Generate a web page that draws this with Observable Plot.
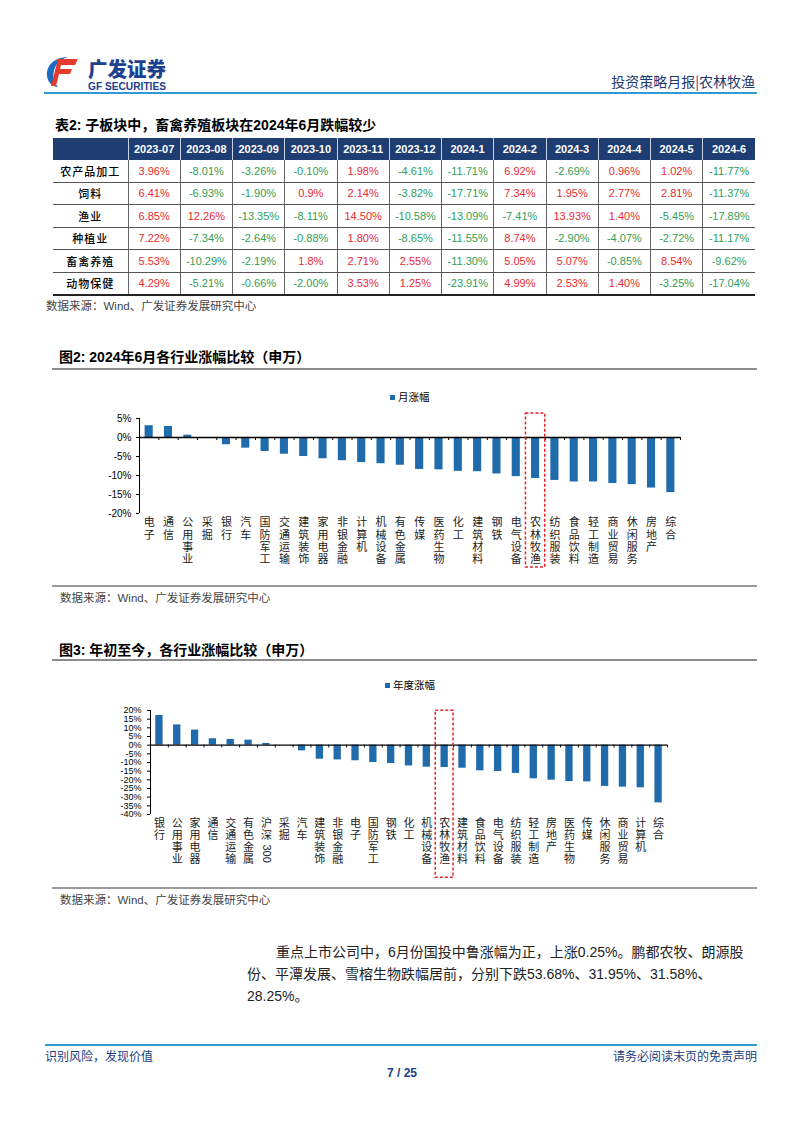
<!DOCTYPE html>
<html><head><meta charset="utf-8">
<script src="https://cdn.jsdelivr.net/npm/d3@7"></script>
<script src="https://cdn.jsdelivr.net/npm/@observablehq/plot@0.6"></script>
<style>
html,body{margin:0;padding:0;background:#fff;}
body{width:802px;height:1133px;position:relative;overflow:hidden;font-family:"Liberation Sans","Noto Sans CJK SC",sans-serif;color:#000;}
.abs{position:absolute;white-space:nowrap;}
.ttl{font-weight:bold;font-size:14px;line-height:18px;}
.src{font-size:11.5px;line-height:14px;color:#444;}
.hline{position:absolute;}
table{border-collapse:collapse;table-layout:fixed;}
th{background:#1e3d72;color:#fff;font-weight:bold;font-size:11px;height:22px;padding:0;border-left:1px solid #c9d2e0;text-align:center;}
th:first-child{border-left:none;}
td{font-size:11px;height:21.5px;padding:0;text-align:center;border-bottom:1px solid #555;border-left:1px solid #666;}
td:first-child{border-left:none;font-family:"Noto Sans CJK SC",sans-serif;font-weight:500;font-size:11px;letter-spacing:1px;}
tr:last-child td{border-bottom:2px solid #222;}
.leg{font-family:"Noto Sans CJK SC",sans-serif;font-size:10.5px;line-height:14px;}
.leg i{display:inline-block;width:5px;height:5px;background:#1f6bab;margin-right:3px;vertical-align:1px;}
</style></head><body>

<!-- header -->
<svg class="abs" style="left:44px;top:54px" width="130" height="40" viewBox="0 0 130 40">
  <path d="M24,3 C10,3 2,12 3,22 C4,29 9,33 14,33 C8,28 8,17 13,10 C16,6 20,4 24,3 Z" fill="#1b6cc0"/>
  <path d="M14,5 L34,5 L31,11 L17,11 L16,15 L28,15 L26,20 L15,20 L12,32 L7,32 Z" fill="#e63b2c"/>
  <text x="44" y="23" font-family="Noto Sans CJK SC" font-weight="900" font-size="20" fill="#1d3f8f" textLength="78" lengthAdjust="spacingAndGlyphs">广发证券</text>
  <text x="44" y="36" font-family="Liberation Sans" font-weight="bold" font-size="11" fill="#1d3f8f" textLength="78" lengthAdjust="spacingAndGlyphs">GF SECURITIES</text>
</svg>
<div class="abs" style="right:47px;top:72px;font-size:14px;line-height:18px;color:#1c3a6e;font-family:'Noto Sans CJK SC',sans-serif;">投资策略月报|农林牧渔</div>
<div class="hline" style="left:44px;top:92px;width:713px;height:2px;background:#2e9bd6"></div>

<!-- table -->
<div class="abs ttl" style="left:55px;top:116px;">表2:&nbsp;子板块中，畜禽养殖板块在2024年6月跌幅较少</div>
<div class="abs" id="tbl" style="left:53px;top:138px;"></div>
<div class="abs src" style="left:46px;top:299px;">数据来源：Wind、广发证券发展研究中心</div>

<!-- chart 2 -->
<div class="abs ttl" style="left:59px;top:348px;">图2:&nbsp;2024年6月各行业涨幅比较（申万）</div>
<div class="hline" style="left:52px;top:368px;width:705px;height:2px;background:#8c8c8c"></div>
<div class="abs leg" style="left:390px;top:390px;"><i></i>月涨幅</div>
<div class="abs" id="c2" style="left:0;top:380px;width:700px;"></div>
<div class="hline" style="left:52px;top:585px;width:705px;height:1.5px;background:#9a9a9a"></div>
<div class="abs src" style="left:60px;top:591px;">数据来源：Wind、广发证券发展研究中心</div>

<!-- chart 3 -->
<div class="abs ttl" style="left:59px;top:641px;">图3:&nbsp;年初至今，各行业涨幅比较（申万）</div>
<div class="hline" style="left:52px;top:659px;width:705px;height:2px;background:#8c8c8c"></div>
<div class="abs leg" style="left:385px;top:678px;"><i></i>年度涨幅</div>
<div class="abs" id="c3" style="left:0;top:670px;width:700px;"></div>
<div class="hline" style="left:52px;top:887px;width:705px;height:1.5px;background:#9a9a9a"></div>
<div class="abs src" style="left:60px;top:893px;">数据来源：Wind、广发证券发展研究中心</div>

<!-- paragraph -->
<div class="abs" style="left:247px;top:941px;font-size:14px;line-height:22px;color:#222;font-family:'Liberation Sans','Noto Sans CJK SC',sans-serif;">
<span style="padding-left:29px">重点上市公司中，6月份国投中鲁涨幅为正，上涨0.25%。鹏都农牧、朗源股</span><br>份、平潭发展、雪榕生物跌幅居前，分别下跌53.68%、31.95%、31.58%、<br>28.25%。
</div>

<!-- footer -->
<div class="hline" style="left:45px;top:1044px;width:712px;height:2px;background:#2e9bd6"></div>
<div class="abs" style="left:45px;top:1048px;font-size:12px;line-height:16px;color:#21407f;font-family:'Noto Sans CJK SC',sans-serif;">识别风险，发现价值</div>
<div class="abs" style="right:45px;top:1048px;font-size:12px;line-height:16px;color:#21407f;font-family:'Noto Sans CJK SC',sans-serif;">请务必阅读末页的免责声明</div>
<div class="abs" style="left:382px;width:40px;text-align:center;top:1066px;font-size:12px;line-height:14px;font-weight:bold;color:#21407f;">7 / 25</div>

<script>
// ---------- table data ----------
const months = ["2023-07","2023-08","2023-09","2023-10","2023-11","2023-12","2024-1","2024-2","2024-3","2024-4","2024-5","2024-6"];
const subsectors = ["农产品加工","饲料","渔业","种植业","畜禽养殖","动物保健"];
const agriProcessing = ["3.96%","-8.01%","-3.26%","-0.10%","1.98%","-4.61%","-11.71%","6.92%","-2.69%","0.96%","1.02%","-11.77%"];
const feed = ["6.41%","-6.93%","-1.90%","0.9%","2.14%","-3.82%","-17.71%","7.34%","1.95%","2.77%","2.81%","-11.37%"];
const fishery = ["6.85%","12.26%","-13.35%","-8.11%","14.50%","-10.58%","-13.09%","-7.41%","13.93%","1.40%","-5.45%","-17.89%"];
const planting = ["7.22%","-7.34%","-2.64%","-0.88%","1.80%","-8.65%","-11.55%","8.74%","-2.90%","-4.07%","-2.72%","-11.17%"];
const livestock = ["5.53%","-10.29%","-2.19%","1.8%","2.71%","2.55%","-11.30%","5.05%","5.07%","-0.85%","8.54%","-9.62%"];
const animalHealth = ["4.29%","-5.21%","-0.66%","-2.00%","3.53%","1.25%","-23.91%","4.99%","2.53%","1.40%","-3.25%","-17.04%"];

// ---------- chart 2 data (June 2024 monthly change, %) ----------
const ind2 = ["电子","通信","公用事业","采掘","银行","汽车","国防军工","交通运输","建筑装饰","家用电器","非银金融","计算机","机械设备","有色金属","传媒","医药生物","化工","建筑材料","钢铁","电气设备","农林牧渔","纺织服装","食品饮料","轻工制造","商业贸易","休闲服务","房地产","综合"];
const val2 = [3.1,2.9,0.6,0.0,-1.9,-2.8,-3.7,-4.4,-5.0,-5.6,-6.1,-6.6,-6.9,-7.3,-8.4,-8.5,-8.9,-9.0,-9.6,-10.3,-10.8,-11.3,-11.7,-11.7,-12.1,-12.4,-13.3,-14.5];
const ticks2 = [-20,-15,-10,-5,0,5];

// ---------- chart 3 data (YTD change, %) ----------
const ind3 = ["银行","公用事业","家用电器","通信","交通运输","有色金属","沪深300","采掘","汽车","建筑装饰","非银金融","电子","国防军工","钢铁","化工","机械设备","农林牧渔","建筑材料","食品饮料","电气设备","纺织服装","轻工制造","房地产","医药生物","传媒","休闲服务","商业贸易","计算机","综合"];
const val3 = [17.1,11.7,8.7,3.7,3.3,2.9,1.0,0.0,-3.3,-8.1,-8.5,-9.0,-10.0,-10.6,-12.0,-12.7,-12.9,-13.3,-14.8,-15.2,-16.3,-19.4,-20.2,-21.0,-21.2,-23.8,-24.2,-24.6,-33.3];
const ticks3 = [-40,-35,-30,-25,-20,-15,-10,-5,0,5,10,15,20];

const highlight = "农林牧渔";

// ---------- table ----------
const rowsT = [agriProcessing, feed, fishery, planting, livestock, animalHealth];
let html = '<table style="width:702px"><colgroup><col style="width:75px">' + months.map(()=>'<col style="width:52.25px">').join("") + '</colgroup>';
html += '<tr><th></th>' + months.map(m=>`<th>${m}</th>`).join("") + '</tr>';
rowsT.forEach((r,i)=>{
  html += `<tr><td>${subsectors[i]}</td>` + r.map(v=>`<td style="color:${v.startsWith("-")?"#2f9e58":"#ea2a31"}">${v}</td>`).join("") + '</tr>';
});
html += '</table>';
document.getElementById("tbl").innerHTML = html;

const font = '"Liberation Sans","Noto Sans CJK SC",sans-serif';
const cjk = '"Noto Sans CJK SC","Liberation Sans",sans-serif';
const barColor = "#1f6bab";
const boxColor = "#e8232a";

// vertical (stacked) category labels: one text mark per character row
function stackedLabels(cats, pad, lh, split){
  const maxLen = d3.max(cats, c => split(c).length);
  return d3.range(maxLen).map(k =>
    Plot.text(cats.filter(c => split(c).length > k), {
      x: d => d, text: d => split(d)[k], frameAnchor: "bottom", lineAnchor: "top",
      dy: pad + k*lh, fontSize: 11, fontFamily: cjk, fill: "#222"
    })
  );
}

// ---------- chart 2 ----------
{
  const W=700, ml=139, mr=20;
  const step = (W-ml-mr)/ind2.length;
  const data = ind2.map((n,i)=>({name:n, value:val2[i]}));
  const pi = 0.58;
  const bw = step*(1-pi);
  const p = Plot.plot({
    width:W, height:200, marginLeft:ml, marginRight:mr, marginTop:38, marginBottom:67,
    style:{fontFamily:font, fontSize:"10px", color:"#000", background:"transparent", overflow:"visible"},
    x:{domain:ind2, paddingInner:pi, paddingOuter:pi/2, round:false, label:null, axis:null},
    y:{domain:[-20,5], label:null},
    marks:[
      Plot.barY(data, {x:"name", y:"value", fill:barColor}),
      Plot.ruleY([0], {stroke:"#000", strokeWidth:1.3}),
      Plot.ruleX(ind2, {x:d=>d, y1:0, y2:-0.8, dx:-step/2, stroke:"#000"}),
      Plot.ruleX([ind2[ind2.length-1]], {x:d=>d, y1:0, y2:-0.8, dx:step/2, stroke:"#000"}),
      Plot.ruleX([ind2[0]], {x:d=>d, y1:-20, y2:5, dx:-step/2, stroke:"#000"}),
      Plot.axisY({ticks:ticks2, tickFormat:d=>d+"%", tickSize:3, tickPadding:5, fontSize:10, fontFamily:font}),
      ...stackedLabels(ind2, 5, 12.3, d => Array.from(d)),
      Plot.barY([highlight], {x:d=>d, y1:6.3, y2:-34.2, fill:"none", stroke:boxColor, strokeWidth:1.5, strokeDasharray:"3,2", insetLeft:-(step-bw)/2, insetRight:-(step-bw)/2})
    ]
  });
  document.getElementById("c2").appendChild(p);
}

// ---------- chart 3 ----------
{
  const W=700, ml=150, mr=33;
  const step = (W-ml-mr)/ind3.length;
  const data = ind3.map((n,i)=>({name:n, value:val3[i]}));
  const pi = 0.59;
  const bw = step*(1-pi);
  const split3 = d => d === "沪深300" ? ["沪","深"] : Array.from(d);
  const p = Plot.plot({
    width:W, height:210, marginLeft:ml, marginRight:mr, marginTop:40, marginBottom:66,
    style:{fontFamily:font, fontSize:"9px", color:"#000", background:"transparent", overflow:"visible"},
    x:{domain:ind3, paddingInner:pi, paddingOuter:pi/2, round:false, label:null, axis:null},
    y:{domain:[-40,20], label:null},
    marks:[
      Plot.barY(data, {x:"name", y:"value", fill:barColor}),
      Plot.ruleY([0], {stroke:"#000", strokeWidth:1.3}),
      Plot.ruleX(ind3, {x:d=>d, y1:0, y2:-1.6, dx:-step/2, stroke:"#000"}),
      Plot.ruleX([ind3[ind3.length-1]], {x:d=>d, y1:0, y2:-1.6, dx:step/2, stroke:"#000"}),
      Plot.ruleX([ind3[0]], {x:d=>d, y1:-40, y2:20, dx:-step/2, stroke:"#000"}),
      Plot.axisY({ticks:ticks3, tickFormat:d=>d+"%", tickSize:3, tickPadding:6, fontSize:9, fontFamily:font}),
      ...stackedLabels(ind3, 5, 12, split3),
      Plot.text(["沪深300"], {x:d=>d, frameAnchor:"bottom", text:()=>"300", rotate:90, textAnchor:"start", lineAnchor:"middle", dy:30, fontSize:11, fontFamily:font, fill:"#222"}),
      Plot.barY([highlight], {x:d=>d, y1:19.8, y2:-76.5, fill:"none", stroke:boxColor, strokeWidth:1.5, strokeDasharray:"3,2", insetLeft:-(step-bw)/2, insetRight:-(step-bw)/2})
    ]
  });
  document.getElementById("c3").appendChild(p);
}
</script>
</body></html>
